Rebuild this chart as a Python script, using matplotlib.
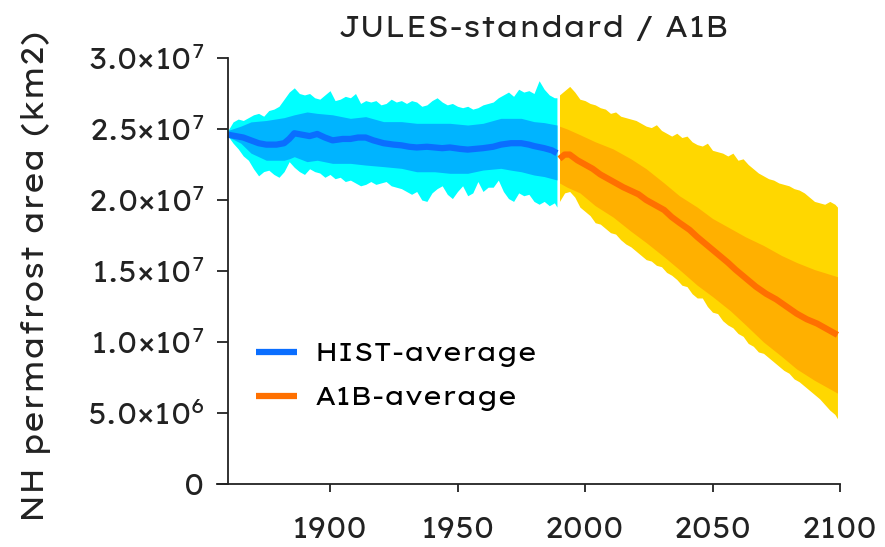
import matplotlib
matplotlib.use('Agg')
import matplotlib.pyplot as plt
from matplotlib import font_manager as fm
import numpy as np

# ---------------- data (units of 1e7 km2) ----------------
hist_years_fine = [1860, 1862, 1864, 1866, 1868, 1870, 1872, 1874, 1876, 1878,
                   1880, 1882, 1884, 1886, 1888, 1890, 1892, 1894, 1896, 1898,
                   1900, 1902, 1904, 1906, 1908, 1910, 1912, 1914, 1916, 1918,
                   1920, 1922, 1924, 1926, 1928, 1930, 1932, 1934, 1936, 1938,
                   1940, 1942, 1944, 1946, 1948, 1950, 1952, 1954, 1956, 1958,
                   1960, 1962, 1964, 1966, 1968, 1970, 1972, 1974, 1976, 1978,
                   1980, 1982, 1984, 1986, 1988, 1989]
hist_outer_hi = [2.49, 2.55, 2.57, 2.56, 2.58, 2.60, 2.61, 2.59, 2.63, 2.64,
                 2.66, 2.71, 2.76, 2.79, 2.75, 2.74, 2.75, 2.72, 2.71, 2.74,
                 2.77, 2.70, 2.71, 2.73, 2.72, 2.75, 2.68, 2.70, 2.69, 2.70,
                 2.67, 2.68, 2.71, 2.69, 2.70, 2.68, 2.70, 2.69, 2.66, 2.67,
                 2.70, 2.72, 2.69, 2.67, 2.68, 2.66, 2.65, 2.66, 2.64, 2.65,
                 2.67, 2.68, 2.69, 2.72, 2.74, 2.76, 2.73, 2.78, 2.76, 2.77,
                 2.75, 2.84, 2.78, 2.74, 2.72, 2.72]
hist_outer_lo = [2.45, 2.40, 2.36, 2.31, 2.28, 2.22, 2.17, 2.20, 2.21, 2.18,
                 2.16, 2.20, 2.27, 2.23, 2.20, 2.18, 2.22, 2.20, 2.19, 2.16,
                 2.18, 2.15, 2.16, 2.13, 2.14, 2.12, 2.10, 2.11, 2.13, 2.11,
                 2.12, 2.13, 2.10, 2.09, 2.08, 2.06, 2.04, 2.06, 2.00, 1.99,
                 2.05, 2.08, 2.10, 2.04, 2.01, 2.06, 2.10, 2.03, 2.05, 2.13,
                 2.06, 2.09, 2.09, 2.14, 2.06, 2.01, 1.99, 2.05, 2.03, 2.04,
                 1.99, 1.97, 1.99, 1.96, 1.98, 1.95]

hist_years = [1860, 1865, 1869, 1875, 1882, 1884, 1886, 1891, 1895, 1901,
              1908, 1914, 1921, 1928, 1934, 1941, 1947, 1954, 1960, 1967,
              1971, 1975, 1980, 1984, 1989]
hist_inner_hi = [2.49, 2.52, 2.55, 2.56, 2.58, 2.59, 2.60, 2.62, 2.61, 2.60,
                 2.575, 2.587, 2.552, 2.552, 2.54, 2.54, 2.54, 2.528, 2.54, 2.575,
                 2.575, 2.575, 2.552, 2.545, 2.528]
hist_inner_lo = [2.446, 2.40, 2.33, 2.28, 2.28, 2.29, 2.305, 2.27, 2.28, 2.258,
                 2.258, 2.246, 2.235, 2.223, 2.199, 2.199, 2.188, 2.188, 2.211, 2.223,
                 2.21, 2.199, 2.176, 2.165, 2.141]

hist_mean_years = [1860, 1863, 1866, 1869, 1872, 1875, 1879, 1882, 1884, 1886,
                   1889, 1892, 1895, 1898, 1901, 1905, 1908, 1911, 1914, 1917,
                   1921, 1925, 1928, 1931, 1934, 1938, 1941, 1944, 1947, 1951,
                   1954, 1957, 1960, 1964, 1967, 1971, 1975, 1978, 1980, 1984,
                   1987, 1989]
hist_mean = [2.46, 2.45, 2.44, 2.42, 2.40, 2.39, 2.39, 2.40, 2.43, 2.47,
             2.46, 2.45, 2.465, 2.44, 2.42, 2.43, 2.43, 2.44, 2.44, 2.42,
             2.40, 2.39, 2.385, 2.375, 2.37, 2.375, 2.37, 2.365, 2.37, 2.36,
             2.355, 2.36, 2.365, 2.375, 2.39, 2.40, 2.40, 2.39, 2.38, 2.365,
             2.35, 2.33]

a1b_years_fine = [1990, 1992, 1994, 1996, 1998, 2000, 2002, 2004, 2006, 2008,
                  2010, 2012, 2014, 2016, 2018, 2020, 2022, 2024, 2026, 2028,
                  2030, 2032, 2034, 2036, 2038, 2040, 2042, 2044, 2046, 2048,
                  2050, 2052, 2054, 2056, 2058, 2060, 2062, 2064, 2066, 2068,
                  2070, 2072, 2074, 2076, 2078, 2080, 2082, 2084, 2086, 2088,
                  2090, 2092, 2094, 2096, 2098, 2099]
a1b_outer_hi = [2.74, 2.77, 2.80, 2.76, 2.71, 2.70, 2.68, 2.67, 2.65, 2.64,
                2.61, 2.62, 2.59, 2.58, 2.57, 2.56, 2.54, 2.52, 2.51, 2.53,
                2.49, 2.47, 2.45, 2.47, 2.44, 2.45, 2.41, 2.39, 2.38, 2.40,
                2.35, 2.34, 2.33, 2.31, 2.33, 2.28, 2.29, 2.25, 2.22, 2.19,
                2.17, 2.15, 2.14, 2.12, 2.11, 2.10, 2.08, 2.07, 2.05, 2.02,
                1.99, 1.98, 1.97, 1.99, 1.97, 1.95]
a1b_outer_lo = [1.99, 2.05, 2.06, 2.02, 1.95, 1.92, 1.89, 1.84, 1.83, 1.80,
                1.77, 1.76, 1.72, 1.69, 1.67, 1.64, 1.61, 1.58, 1.57, 1.54,
                1.53, 1.49, 1.47, 1.44, 1.40, 1.39, 1.34, 1.31, 1.31, 1.25,
                1.21, 1.20, 1.15, 1.12, 1.10, 1.06, 1.04, 0.99, 0.97, 0.93,
                0.92, 0.89, 0.86, 0.83, 0.80, 0.78, 0.74, 0.72, 0.69, 0.66,
                0.63, 0.60, 0.56, 0.52, 0.49, 0.46]

a1b_years = [1990, 1993, 1998, 2004, 2011, 2018, 2024, 2031, 2037, 2044,
             2050, 2057, 2063, 2070, 2077, 2083, 2090, 2099]
a1b_inner_hi = [2.52, 2.50, 2.46, 2.41, 2.36, 2.29, 2.22, 2.12, 2.03, 1.95,
                1.87, 1.80, 1.74, 1.68, 1.61, 1.56, 1.51, 1.46]
a1b_inner_lo = [2.12, 2.09, 2.05, 1.96, 1.88, 1.78, 1.70, 1.60, 1.51, 1.40,
                1.32, 1.22, 1.12, 1.00, 0.90, 0.81, 0.73, 0.64]

a1b_mean_years = [1990, 1992, 1994, 1997, 2000, 2003, 2006, 2009, 2012, 2015,
                  2018, 2021, 2024, 2027, 2031, 2034, 2037, 2041, 2044, 2048,
                  2052, 2056, 2059, 2063, 2067, 2071, 2075, 2079, 2083, 2087,
                  2091, 2095, 2099]
a1b_mean = [2.29, 2.32, 2.32, 2.28, 2.25, 2.22, 2.18, 2.15, 2.12, 2.09,
            2.065, 2.04, 2.00, 1.97, 1.93, 1.88, 1.84, 1.79, 1.74, 1.68,
            1.62, 1.56, 1.51, 1.45, 1.39, 1.34, 1.30, 1.25, 1.20, 1.16,
            1.13, 1.09, 1.05]

y_ticks = [0, 5.0e6, 1.0e7, 1.5e7, 2.0e7, 2.5e7, 3.0e7]
y_ticklabels = ['0', '5.0×10$^{6}$', '1.0×10$^{7}$', '1.5×10$^{7}$',
                '2.0×10$^{7}$', '2.5×10$^{7}$', '3.0×10$^{7}$']
x_ticks = [1900, 1950, 2000, 2050, 2100]
x_ticklabels = ['1900', '1950', '2000', '2050', '2100']

title = 'JULES-standard / A1B'
ylabel = 'NH permafrost area (km2)'
legend_labels = ['HIST-average', 'A1B-average']

SCALE = 1e7

# ---------------- font ----------------
available = {f.name for f in fm.fontManager.ttflist}
font = 'DejaVu Sans'
for cand in ['Lexend Exa', 'Lexend Deca', 'Didact Gothic', 'Questrial', 'Open Sans']:
    if cand in available:
        font = cand
        break
plt.rcParams['font.family'] = [font, 'DejaVu Sans']
plt.rcParams['font.weight'] = 'light'
plt.rcParams['mathtext.fontset'] = 'custom'
plt.rcParams['mathtext.rm'] = font
plt.rcParams['mathtext.default'] = 'regular'

TXT = '#222222'
col_hist_outer = '#00FFFF'
col_hist_inner = '#00B4FF'
col_hist_mean = '#0A6EFF'
col_a1b_outer = '#FFD700'
col_a1b_inner = '#FFB000'
col_a1b_mean = '#FF7000'

W, H = 885, 547
fig = plt.figure(figsize=(W / 100, H / 100), dpi=100)
ax = fig.add_axes([217 / W, 1 - 484 / H, (840 - 217) / W, (484 - 58) / H])

s = lambda v: np.asarray(v) * SCALE

ax.fill_between(hist_years_fine, s(hist_outer_lo), s(hist_outer_hi), color=col_hist_outer, lw=0)
ax.fill_between(hist_years, s(hist_inner_lo), s(hist_inner_hi), color=col_hist_inner, lw=0)
ax.plot(hist_mean_years, s(hist_mean), color=col_hist_mean, lw=4.5, solid_capstyle='butt',
        label=legend_labels[0])

ax.fill_between(a1b_years_fine, s(a1b_outer_lo), s(a1b_outer_hi), color=col_a1b_outer, lw=0)
ax.fill_between(a1b_years, s(a1b_inner_lo), s(a1b_inner_hi), color=col_a1b_inner, lw=0)
ax.plot(a1b_mean_years, s(a1b_mean), color=col_a1b_mean, lw=4.5, solid_capstyle='butt',
        label=legend_labels[1])

ax.set_xlim(1860 - 11 / 2.55, 2100)
ax.set_ylim(0, 3.0e7)

for side in ['top', 'right']:
    ax.spines[side].set_visible(False)
ax.spines['left'].set_position(('data', 1860))
for side in ['left', 'bottom']:
    ax.spines[side].set_linewidth(1.3)
    ax.spines[side].set_color(TXT)

ax.set_yticks(y_ticks, y_ticklabels)
ax.set_xticks(x_ticks, x_ticklabels)
ax.tick_params(axis='y', direction='out', length=8, width=1.3, pad=9, labelsize=21, colors=TXT)
ax.tick_params(axis='x', direction='out', length=6, width=1.3, pad=17, labelsize=21, colors=TXT)

fig.text(533 / W, 1 - 37 / H, title, ha='center', va='baseline', fontsize=21, color=TXT)
fig.text(36 / W, 1 - 276 / H, ylabel, ha='center', va='center', rotation=90, fontsize=22, color=TXT)

ax.legend(loc='upper left', bbox_to_anchor=((256 - 217) / (840 - 217), (484 - 342) / (484 - 58)),
          frameon=False, fontsize=19, handlelength=1.55, handletextpad=0.68, labelspacing=0.72,
          borderaxespad=0, borderpad=0)

fig.savefig('out.png', dpi=100)
